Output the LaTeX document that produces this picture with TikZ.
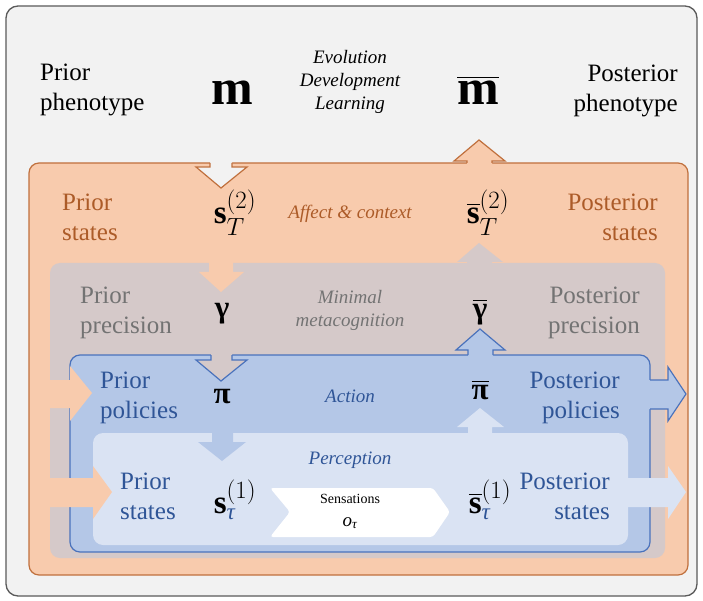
\documentclass[tikz,border=0pt]{standalone}
\usepackage{fontspec}
\usepackage{amsmath}
\IfFontExistsTF{LiberationSerif-Regular.ttf}{%
  \setmainfont{LiberationSerif}[Extension=.ttf, UprightFont=*-Regular, BoldFont=*-Bold, ItalicFont=*-Italic, BoldItalicFont=*-BoldItalic]}{%
  \setmainfont{Liberation Serif}}
\definecolor{bgc}{HTML}{F2F2F2}
\definecolor{frameC}{HTML}{5A5A5A}
\definecolor{orF}{HTML}{F8CBAD}
\definecolor{orL}{HTML}{C0703D}
\definecolor{orT}{HTML}{AC5B28}
\definecolor{grF}{HTML}{D5C9C9}
\definecolor{grT}{HTML}{737373}
\definecolor{blF}{HTML}{B4C7E7}
\definecolor{blL}{HTML}{4A72BC}
\definecolor{blT}{HTML}{2F5597}
\definecolor{lbF}{HTML}{DAE3F3}
\tikzset{
  lab/.style={font=\fontsize{25}{30}\selectfont, inner sep=0pt},
  labL/.style={lab, anchor=west, align=left},
  labR/.style={lab, anchor=east, align=right},
  midlab/.style={font=\fontsize{19}{23}\selectfont\itshape, align=center, inner sep=0pt},
  bigsym/.style={font=\fontsize{50}{54}\selectfont, inner sep=0pt},
  symb/.style={font=\fontsize{33}{36}\selectfont, inner sep=0pt},
  greek/.style={font=\fontsize{31}{34}\selectfont\bfseries, inner sep=0pt},
  edge/.style={line width=1.2pt, line join=miter},
}
\begin{document}
\begin{tikzpicture}[x=1pt,y=-1pt]
\useasboundingbox (0,0) rectangle (703,601);
\fill[white] (0,0) rectangle (703,601);
\draw[fill=bgc, draw=frameC, line width=1.3pt, rounded corners=12pt] (6,6) rectangle (697,596);

% orange box
\draw[fill=orF, draw=orL, edge, rounded corners=10pt] (29,163) rectangle (688,575);
\fill[bgc] (210,158) -- (210,167) -- (196,167) -- (221,188) -- (247,167) -- (232,167) -- (232,158) -- cycle;
\draw[orL, edge] (210,163) -- (210,167) -- (196,167) -- (221,188) -- (247,167) -- (232,167) -- (232,163);
\fill[orF] (467,166) -- (467,161) -- (454,161) -- (479,140) -- (505,161) -- (492,161) -- (492,166) -- cycle;
\draw[orL, edge] (467,163) -- (467,161) -- (454,161) -- (479,140) -- (505,161) -- (492,161) -- (492,163);

% gray box
\fill[grF, rounded corners=10pt] (50,263) rectangle (665,558);
\fill[orF] (209,260) -- (209,272) -- (199,272) -- (221,292) -- (244,272) -- (233,272) -- (233,260) -- cycle;
\fill[grF] (467,266) -- (467,262) -- (457,262) -- (479,243) -- (503,262) -- (492,262) -- (492,266) -- cycle;

% blue box
\draw[fill=blF, draw=blL, edge, rounded corners=10pt] (70,355) rectangle (650,552);
\fill[grF] (211,350) -- (211,360) -- (196,360) -- (221,381) -- (247,360) -- (232,360) -- (232,350) -- cycle;
\draw[blL, edge] (211,355) -- (211,360) -- (196,360) -- (221,381) -- (247,360) -- (232,360) -- (232,355);
\fill[blF] (468,358) -- (468,350) -- (456,350) -- (480,329) -- (505,350) -- (493,350) -- (493,358) -- cycle;
\draw[blL, edge] (468,355) -- (468,350) -- (456,350) -- (480,329) -- (505,350) -- (493,350) -- (493,355);
\fill[blF] (645,380) -- (668,380) -- (668,367) -- (686,394) -- (668,421) -- (668,409) -- (645,409) -- cycle;
\draw[blL, edge] (650,380) -- (668,380) -- (668,367) -- (686,394) -- (668,421) -- (668,409) -- (650,409);
\fill[orF] (40,380) -- (70,380) -- (70,366) -- (92,393) -- (70,421) -- (70,408) -- (40,408) -- cycle;

% light blue box
\fill[lbF, rounded corners=10pt] (93,433) rectangle (628,545);
\fill[blF] (212,430) -- (212,442) -- (198,442) -- (222,461) -- (246,442) -- (233,442) -- (233,430) -- cycle;
\fill[lbF] (468,436) -- (468,427) -- (457,427) -- (480,408) -- (504,427) -- (492,427) -- (492,436) -- cycle;
\fill[orF] (40,478) -- (93,478) -- (93,466) -- (112,492) -- (93,519) -- (93,507) -- (40,507) -- cycle;
\fill[lbF] (620,478) -- (668,478) -- (668,466) -- (686,492) -- (668,519) -- (668,507) -- (620,507) -- cycle;
\fill[white, rounded corners=3pt] (270,488) -- (433,488) -- (450,512) -- (433,537) -- (270,537) -- (290,512) -- cycle;

% texts: phenotype level
\node[labL] (priorPheno) at (40,90) {Prior\\phenotype};
\node[bigsym] (m) at (232,93) {\textbf{m}};
\node[midlab] (edl) at (350,82) {Evolution\\Development\\Learning};
\node[bigsym] (mbar) at (478,90) {$\overline{\mbox{\textbf{m}}}$};
\node[labR] (postPheno) at (678,91) {Posterior\\phenotype};

% orange level
\node[labL, text=orT] (priorStates2) at (62,217) {Prior\\states};
\node[symb] (s2) at (235,213) {$\mathbf{s}_{T}^{(2)}$};
\node[midlab, text=orT] (affect) at (350,214) {Affect \& context};
\node[symb] (s2bar) at (488,213) {$\overline{\mathbf{s}}_{T}^{(2)}$};
\node[labR, text=orT] (postStates2) at (658,217) {Posterior\\states};

% gray level
\node[labL, text=grT] (priorPrec) at (80,313) {Prior\\precision};
\node[greek] (gamma) at (222,314) {γ};
\node[midlab, text=grT] (meta) at (350,310) {Minimal\\metacognition};
\node[greek] (gammabar) at (480,312) {$\overline{\mbox{\bfseries γ}}$};
\node[labR, text=grT] (postPrec) at (640,313) {Posterior\\precision};

% blue level
\node[labL, text=blT] (priorPol) at (100,398) {Prior\\policies};
\node[greek] (pi) at (222,397) {π};
\node[midlab, text=blT] (action) at (350,396) {Action};
\node[greek] (pibar) at (480,390) {$\overline{\mbox{\bfseries π}}$};
\node[labR, text=blT] (postPol) at (620,398) {Posterior\\policies};

% light blue level
\node[labL, text=blT] (priorStates1) at (120,496) {Prior\\states};
\node[symb] (s1) at (235,500) {$\mathbf{s}_{\text{\color{blT}\itshape τ}}^{(1)}$};
\node[midlab, text=blT] (perc) at (350,460) {Perception};
\node[font=\fontsize{14}{16}\selectfont, inner sep=0pt] (sens) at (350,499) {Sensations};
\node[font=\fontsize{19}{21}\selectfont, inner sep=0pt] (obs) at (350,523) {$\mathit{o}_{\text{\itshape τ}}$};
\node[symb] (s1bar) at (490,500) {$\overline{\mathbf{s}}_{\text{\color{blT}\itshape τ}}^{(1)}$};
\node[labR, text=blT] (postStates1) at (610,496) {Posterior\\states};
\end{tikzpicture}
\end{document}
